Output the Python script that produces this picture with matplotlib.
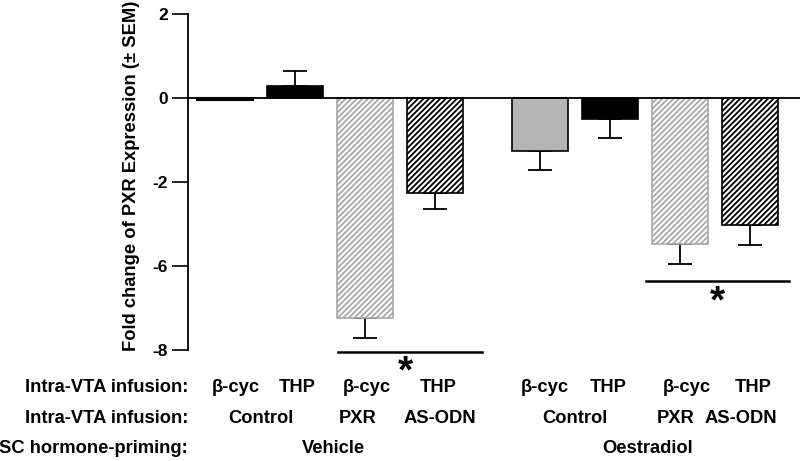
import numpy as np
import matplotlib.pyplot as plt
import matplotlib.transforms as mtransforms

plt.rcParams['font.family'] = ['Liberation Sans', 'DejaVu Sans']
plt.rcParams['font.weight'] = 'bold'
plt.rcParams['hatch.linewidth'] = 1.3

# ---- data (plotted in the axis' own evenly spaced units) ----
x_pos = [0, 1, 2, 3, 4.5, 5.5, 6.5, 7.5]
valores = [-0.04, 0.29, -5.24, -2.26, -1.26, -0.50, -3.48, -3.02]
sem = [0.0, 0.35, 0.47, 0.38, 0.45, 0.45, 0.47, 0.48]

infusion_x = [0.15, 1.03, 2.03, 3.04, 4.57, 5.47, 6.6, 7.54]
infusion = ['β-cyc', 'THP', 'β-cyc', 'THP', 'β-cyc', 'THP', 'β-cyc', 'THP']
grupo_x = [0.51, 1.89, 3.06, 5.0, 6.43, 7.36]
grupo = ['Control', 'PXR', 'AS-ODN', 'Control', 'PXR', 'AS-ODN']
hormona_x = [1.54, 6.04]
hormona = ['Vehicle', 'Oestradiol']

y_ticks = [2, 0, -2, -4, -6]
y_ticklabels = ['2', '0', '-2', '-6', '-8']

# significancia: (x0, x1, y linea, x asterisco, y asterisco)
sig = [(1.61, 3.67, -6.05, 2.57, -6.53),
       (6.01, 8.06, -4.36, 7.03, -4.88)]

# ---- estilos por barra ----
caras = ['#b5b5b5', 'black', 'white', 'white', '#b5b5b5', 'black', 'white', 'white']
bordes = ['black', 'black', '#a8a8a8', 'black', 'black', 'black', '#a8a8a8', 'black']
tramas = [None, None, '//////', '//////', None, None, '//////', '//////']

fig = plt.figure(figsize=(8, 4.61), dpi=100)
ax = fig.add_axes([188 / 800, 1 - 350 / 461, 1 - 188 / 800, 336 / 461])

for i in range(len(x_pos)):
    ax.bar(x_pos[i], valores[i], width=0.8, color=caras[i], edgecolor=bordes[i],
           hatch=tramas[i], linewidth=1.5 if i == 0 else 1.2, zorder=2)
    if sem[i] > 0:
        if valores[i] < 0:
            err = [[sem[i]], [0]]
        else:
            err = [[0], [sem[i]]]
        ax.errorbar(x_pos[i], valores[i], yerr=err, fmt='none', ecolor='black',
                    elinewidth=1.3, capsize=8.3, capthick=1.3, zorder=1)

ax.axhline(0, color='black', linewidth=1.3, zorder=3)

ax.set_xlim(-0.53, 8.21)
ax.set_ylim(-6, 2)
ax.set_yticks(y_ticks)
ax.set_yticklabels(y_ticklabels, fontsize=12.5, fontweight='bold')
ax.tick_params(axis='y', length=11.5, width=1.2, pad=3)
ax.set_xticks([])
for lado in ['top', 'right', 'bottom']:
    ax.spines[lado].set_visible(False)
ax.spines['left'].set_linewidth(1.3)

for x0, x1, yl, xa, ya in sig:
    ax.plot([x0, x1], [yl, yl], color='black', linewidth=1.8, clip_on=False)
    ax.text(xa, ya, '*', ha='center', va='center', fontsize=28, fontweight='bold',
            clip_on=False)

fig.text(131 / 800, 1 - 176 / 461, 'Fold change of PXR Expression (± SEM)',
         rotation=90, ha='center', va='center', fontsize=13.2, fontweight='bold')

# ---- filas de etiquetas bajo el eje ----
trans = mtransforms.blended_transform_factory(ax.transData, fig.transFigure)
fila_y = [1 - 387 / 461, 1 - 418 / 461, 1 - 448 / 461]
tam = 13.2

fig.text(188 / 800, fila_y[0], 'Intra-VTA infusion:', ha='right', va='center', fontsize=tam)
fig.text(188 / 800, fila_y[1], 'Intra-VTA infusion:', ha='right', va='center', fontsize=tam)
fig.text(188 / 800, fila_y[2], 'SC hormone-priming:', ha='right', va='center', fontsize=tam)

for xp, t in zip(infusion_x, infusion):
    fig.text(xp, fila_y[0], t, transform=trans, ha='center', va='center', fontsize=tam)
for xp, t in zip(grupo_x, grupo):
    fig.text(xp, fila_y[1], t, transform=trans, ha='center', va='center', fontsize=tam)
for xp, t in zip(hormona_x, hormona):
    fig.text(xp, fila_y[2], t, transform=trans, ha='center', va='center', fontsize=tam)

fig.savefig('out.png', dpi=100)
